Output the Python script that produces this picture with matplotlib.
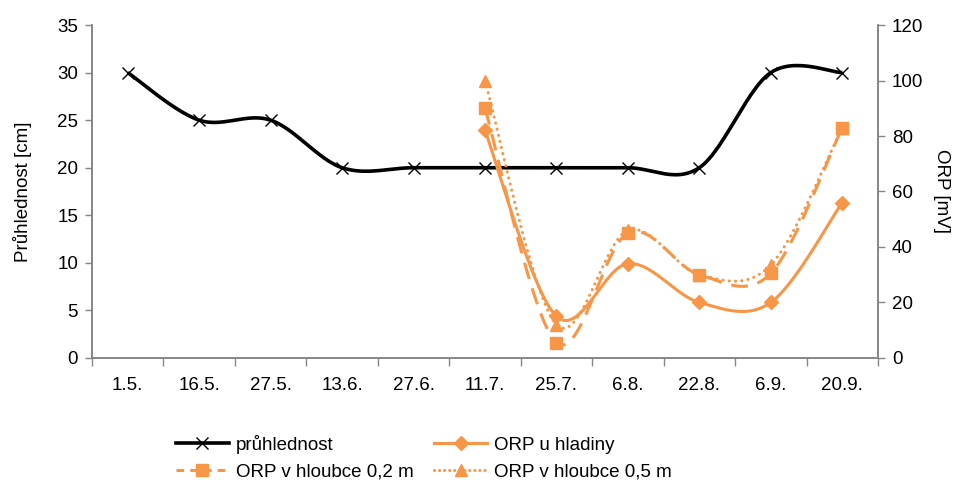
import numpy as np
import matplotlib
matplotlib.use("Agg")
import matplotlib.pyplot as plt
from matplotlib.lines import Line2D
from matplotlib.ticker import FixedLocator, MultipleLocator

plt.rcParams['font.family'] = ['Liberation Sans', 'DejaVu Sans']

# ── data ───────────────────────────────────────────────────────
dates = ['1.5.', '16.5.', '27.5.', '13.6.', '27.6.', '11.7.',
         '25.7.', '6.8.', '22.8.', '6.9.', '20.9.']
pruhlednost = [30, 25, 25, 20, 20, 20, 20, 20, 20, 30, 30]

orp_dates = ['11.7.', '25.7.', '6.8.', '22.8.', '6.9.', '20.9.']
orp_hladina = [82, 15, 34, 20, 20, 56]
orp_02 = [90, 5.5, 45, 30, 30.5, 83]
orp_05 = [100, 12, 46, 30, 33.5, 83]

ORANGE = '#F79646'
GRAY = '#868686'
FS = 13.5


def smooth(x, y, n=30):
    """Bezier smoothing of a polyline (same look as a 'smoothed line' chart)."""
    x = np.asarray(x, float)
    y = np.asarray(y, float)
    px = np.concatenate([[x[0]], x, [x[-1]]])
    py = np.concatenate([[y[0]], y, [y[-1]]])
    xs, ys = [], []
    t = np.linspace(0, 1, n)
    for i in range(len(x) - 1):
        p0 = np.array([px[i + 1], py[i + 1]])
        p3 = np.array([px[i + 2], py[i + 2]])
        c1 = p0 + (np.array([px[i + 2], py[i + 2]]) - np.array([px[i], py[i]])) / 6
        c2 = p3 - (np.array([px[i + 3], py[i + 3]]) - np.array([px[i + 1], py[i + 1]])) / 6
        b = ((1 - t)[:, None] ** 3 * p0 + 3 * ((1 - t) ** 2 * t)[:, None] * c1
             + 3 * ((1 - t) * t ** 2)[:, None] * c2 + (t ** 3)[:, None] * p3)
        xs.append(b[:, 0])
        ys.append(b[:, 1])
    return np.concatenate(xs), np.concatenate(ys)


x_all = np.arange(len(dates))
x_orp = np.array([dates.index(d) for d in orp_dates])

fig = plt.figure(figsize=(9.65, 4.91), dpi=100)
ax = fig.add_axes([0.0953, 0.271, 0.9098 - 0.0953, 0.949 - 0.271])
ax2 = ax.twinx()

# průhlednost (left axis)
sx, sy = smooth(x_all, pruhlednost)
ax.plot(sx, sy, color='black', lw=2.6, solid_capstyle='butt', zorder=3)
ax.plot(x_all, pruhlednost, ls='none', marker='x', ms=8, mew=1.0,
        color='black', zorder=4)

# ORP series (right axis)
sx, sy = smooth(x_orp, orp_hladina)
ax2.plot(sx, sy, color=ORANGE, lw=2.2, zorder=3)
ax2.plot(x_orp, orp_hladina, ls='none', marker='D', ms=7, color=ORANGE, zorder=4)

sx, sy = smooth(x_orp, orp_02)
ax2.plot(sx, sy, color=ORANGE, lw=2.2, dashes=(5.5, 3.2), zorder=3)
ax2.plot(x_orp, orp_02, ls='none', marker='s', ms=9, color=ORANGE, zorder=4)

sx, sy = smooth(x_orp, orp_05)
ax2.plot(sx, sy, color=ORANGE, lw=2.2, dashes=(0.05, 2.0),
         dash_capstyle='round', zorder=3)
ax2.plot(x_orp, orp_05, ls='none', marker='^', ms=9, color=ORANGE, zorder=4)

# axes styling
ax.set_xlim(-0.5, len(dates) - 0.5)
ax.set_ylim(0, 35)
ax2.set_ylim(0, 120)
ax.yaxis.set_major_locator(MultipleLocator(5))
ax2.yaxis.set_major_locator(MultipleLocator(20))
ax.set_xticks(x_all)
ax.set_xticklabels(dates)
ax.xaxis.set_minor_locator(FixedLocator(np.arange(-0.5, len(dates), 1.0)))
ax.tick_params(axis='x', which='major', length=0, pad=14, labelsize=FS)
ax.tick_params(axis='x', which='minor', length=6, color=GRAY, width=1)
ax.tick_params(axis='y', length=5, color=GRAY, width=1, labelsize=FS, pad=5)
ax2.tick_params(axis='y', length=5, color=GRAY, width=1, labelsize=FS, pad=5)

for a in (ax, ax2):
    a.spines['top'].set_visible(False)
    for s in ('left', 'right', 'bottom'):
        a.spines[s].set_color(GRAY)
        a.spines[s].set_linewidth(1.2)

ax.set_ylabel('Průhlednost [cm]', fontsize=FS, labelpad=18)
ax2.set_ylabel('ORP [mV]', fontsize=FS, rotation=-90, labelpad=19)

# legend
handles = [
    Line2D([], [], color='black', lw=2.6, marker='x', ms=8, mew=1.0),
    Line2D([], [], color=ORANGE, lw=2.2, dashes=(2.5, 2.0), marker='s', ms=9),
    Line2D([], [], color=ORANGE, lw=2.2, marker='D', ms=7),
    Line2D([], [], color=ORANGE, lw=2.2, dashes=(0.05, 1.6),
           dash_capstyle='round', marker='^', ms=9),
]
labels = ['průhlednost', 'ORP v hloubce 0,2 m', 'ORP u hladiny', 'ORP v hloubce 0,5 m']
fig.legend(handles, labels, ncol=2, loc='center left',
           bbox_to_anchor=(0.165, 0.068), frameon=False, fontsize=FS,
           handlelength=2.8, handletextpad=0.4, columnspacing=1.1,
           labelspacing=0.5, numpoints=1)

fig.savefig('out.png', dpi=100)
